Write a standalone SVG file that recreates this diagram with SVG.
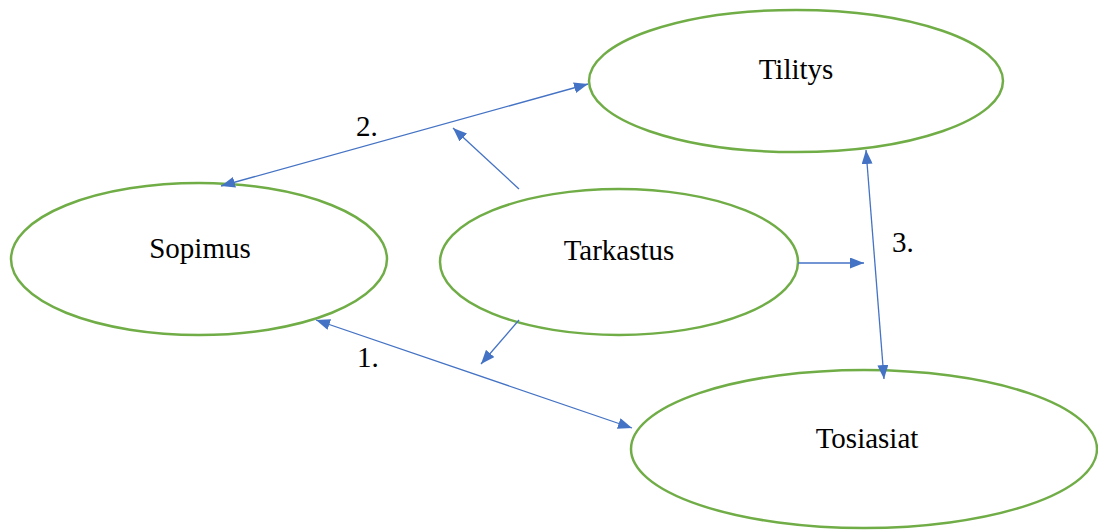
<svg xmlns="http://www.w3.org/2000/svg" width="1098" height="531" viewBox="0 0 1098 531">
  <style>
    .node ellipse { fill: #ffffff; stroke: #70AD47; stroke-width: 2.5; }
    .label { font-family: "Liberation Serif", "Times New Roman", serif; font-size: 29px; fill: #000000; }
    .edge { stroke: #4472C4; stroke-width: 1.3; fill: none; }
  </style>
  <defs>
    <marker id="arrow" viewBox="0 0 14 11" refX="14" refY="5.5" markerWidth="14" markerHeight="11" markerUnits="userSpaceOnUse" orient="auto-start-reverse">
      <path d="M0,0 L14,5.5 L0,11 Z" fill="#4472C4"/>
    </marker>
  </defs>
  <rect width="1098" height="531" fill="#ffffff"/>

  <g id="tilitys" class="node">
    <ellipse cx="796" cy="81" rx="207" ry="71"/>
    <text class="label" x="796" y="79" text-anchor="middle">Tilitys</text>
  </g>
  <g id="sopimus" class="node">
    <ellipse cx="199" cy="259" rx="188" ry="76"/>
    <text class="label" x="200" y="258" text-anchor="middle">Sopimus</text>
  </g>
  <g id="tarkastus" class="node">
    <ellipse cx="619" cy="262" rx="179" ry="73"/>
    <text class="label" x="619" y="260" text-anchor="middle">Tarkastus</text>
  </g>
  <g id="tosiasiat" class="node">
    <ellipse cx="864" cy="449" rx="233" ry="79"/>
    <text class="label" x="867" y="448" text-anchor="middle">Tosiasiat</text>
  </g>

  <g id="connectors">
    <line class="edge" x1="221" y1="186" x2="588" y2="84" marker-start="url(#arrow)" marker-end="url(#arrow)"/>
    <line class="edge" x1="316" y1="320" x2="632" y2="428" marker-start="url(#arrow)" marker-end="url(#arrow)"/>
    <line class="edge" x1="866" y1="150" x2="884" y2="379" marker-start="url(#arrow)" marker-end="url(#arrow)"/>
    <line class="edge" x1="519" y1="189" x2="453" y2="128" marker-end="url(#arrow)"/>
    <line class="edge" x1="519" y1="320" x2="481" y2="364" marker-end="url(#arrow)"/>
    <line class="edge" x1="798" y1="263" x2="864" y2="263" marker-end="url(#arrow)"/>
    <text class="label" x="356" y="136">2.</text>
    <text class="label" x="357" y="367">1.</text>
    <text class="label" x="892" y="252">3.</text>
  </g>
</svg>
